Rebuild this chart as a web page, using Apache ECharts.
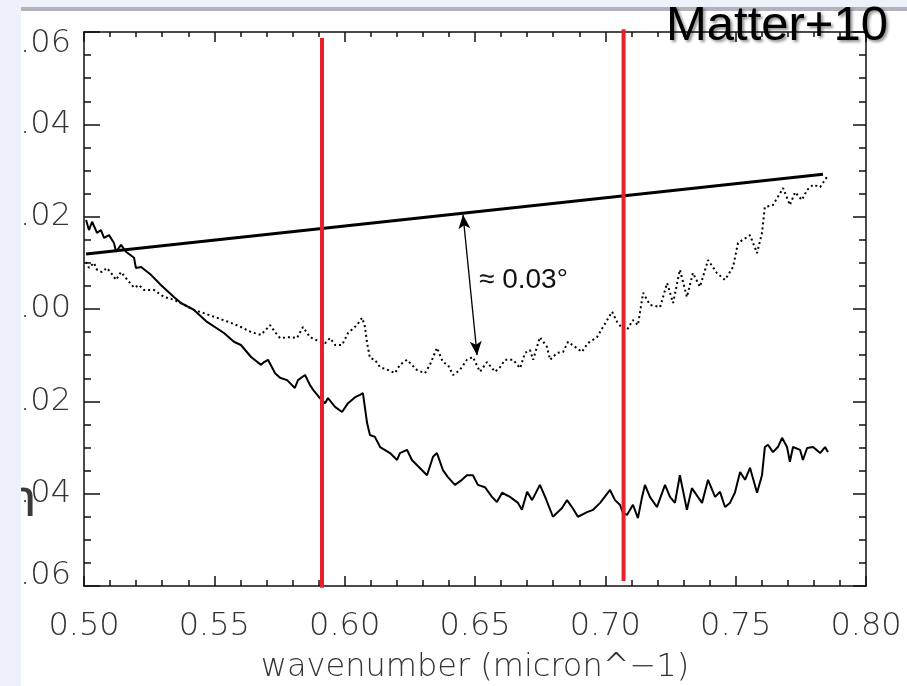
<!DOCTYPE html>
<html>
<head>
<meta charset="utf-8">
<script src="https://cdn.jsdelivr.net/npm/echarts@6/dist/echarts.min.js"></script>
<style>
html, body { margin: 0; padding: 0; background: #eef0fa; }
#main { width: 907px; height: 686px; }
</style>
</head>
<body>
<div id="main"></div>
<script>
// solid trace
var solidX = [0.5008,0.5019,0.5031,0.5050,0.5065,0.5077,0.5096,0.5115,0.5123,0.5142,
  0.5161,0.5192,0.5199,0.5219,0.5257,0.5295,0.5345,0.5372,0.5422,0.5472,
  0.5537,0.5575,0.5602,0.5641,0.5679,0.5691,0.5706,0.5733,0.5752,0.5779,
  0.5809,0.5821,0.5848,0.5867,0.5879,0.5905,0.5925,0.5936,0.5963,0.5990,
  0.6013,0.6040,0.6059,0.6070,0.6086,0.6097,0.6116,0.6136,0.6174,0.6201,
  0.6212,0.6239,0.6258,0.6277,0.6316,0.6339,0.6354,0.6377,0.6396,0.6423,
  0.6450,0.6469,0.6492,0.6511,0.6538,0.6565,0.6584,0.6604,0.6634,0.6665,
  0.6680,0.6700,0.6719,0.6749,0.6769,0.6799,0.6834,0.6853,0.6872,0.6895,
  0.6930,0.6953,0.6980,0.7018,0.7037,0.7056,0.7068,0.7083,0.7106,0.7125,
  0.7141,0.7152,0.7171,0.7198,0.7229,0.7248,0.7267,0.7286,0.7313,0.7332,
  0.7355,0.7371,0.7394,0.7421,0.7440,0.7459,0.7478,0.7497,0.7517,0.7536,
  0.7555,0.7566,0.7582,0.7601,0.7612,0.7624,0.7643,0.7662,0.7678,0.7697,
  0.7708,0.7720,0.7747,0.7758,0.7774,0.7797,0.7824,0.7843,0.7854];
var solidY = [0.0193,0.0171,0.0189,0.0165,0.0171,0.0154,0.0160,0.0143,0.0124,0.0139,
  0.0124,0.0111,0.0089,0.0091,0.0074,0.0052,0.0026,0.0013,-0.0002,-0.0028,
  -0.0052,-0.0071,-0.0078,-0.0104,-0.0121,-0.0115,-0.0110,-0.0139,-0.0149,-0.0154,
  -0.0171,-0.0154,-0.0143,-0.0165,-0.0175,-0.0193,-0.0204,-0.0193,-0.0212,-0.0223,
  -0.0204,-0.0191,-0.0186,-0.0182,-0.0247,-0.0273,-0.0277,-0.0299,-0.0312,-0.0327,
  -0.0312,-0.0305,-0.0327,-0.0338,-0.0360,-0.0320,-0.0312,-0.0349,-0.0364,-0.0381,
  -0.0370,-0.0360,-0.0360,-0.0381,-0.0386,-0.0407,-0.0418,-0.0398,-0.0407,-0.0420,
  -0.0435,-0.0396,-0.0414,-0.0381,-0.0407,-0.0450,-0.0431,-0.0414,-0.0429,-0.0450,
  -0.0440,-0.0435,-0.0420,-0.0392,-0.0414,-0.0424,-0.0442,-0.0446,-0.0424,-0.0453,
  -0.0407,-0.0381,-0.0407,-0.0429,-0.0381,-0.0407,-0.0420,-0.0360,-0.0435,-0.0388,
  -0.0407,-0.0420,-0.0370,-0.0407,-0.0396,-0.0429,-0.0420,-0.0398,-0.0353,-0.0370,
  -0.0344,-0.0366,-0.0398,-0.0360,-0.0299,-0.0294,-0.0310,-0.0299,-0.0279,-0.0299,
  -0.0331,-0.0299,-0.0305,-0.0327,-0.0301,-0.0299,-0.0312,-0.0299,-0.0310];

// dotted trace
var dottedX = [0.5008,0.5019,0.5038,0.5050,0.5069,0.5088,0.5104,0.5123,0.5142,0.5161,
  0.5192,0.5211,0.5230,0.5269,0.5307,0.5345,0.5384,0.5422,0.5460,0.5510,
  0.5564,0.5602,0.5641,0.5679,0.5714,0.5733,0.5752,0.5790,0.5817,0.5840,
  0.5867,0.5905,0.5925,0.5944,0.5963,0.5990,0.6013,0.6047,0.6067,0.6078,
  0.6086,0.6097,0.6116,0.6136,0.6166,0.6193,0.6212,0.6239,0.6258,0.6277,
  0.6308,0.6327,0.6354,0.6377,0.6396,0.6416,0.6442,0.6469,0.6492,0.6519,
  0.6546,0.6577,0.6596,0.6615,0.6646,0.6673,0.6692,0.6711,0.6723,0.6749,
  0.6776,0.6788,0.6815,0.6838,0.6857,0.6884,0.6910,0.6933,0.6968,0.6991,
  0.7026,0.7045,0.7064,0.7083,0.7106,0.7125,0.7145,0.7171,0.7210,0.7237,
  0.7260,0.7286,0.7313,0.7336,0.7363,0.7394,0.7428,0.7459,0.7490,0.7509,
  0.7528,0.7555,0.7582,0.7601,0.7612,0.7643,0.7682,0.7708,0.7728,0.7754,
  0.7774,0.7797,0.7824,0.7850];
var dottedY = [0.0102,0.0089,0.0100,0.0085,0.0080,0.0089,0.0078,0.0063,0.0080,0.0067,
  0.0046,0.0052,0.0041,0.0041,0.0026,0.0020,0.0009,-0.0002,-0.0009,-0.0019,
  -0.0030,-0.0039,-0.0050,-0.0056,-0.0035,-0.0050,-0.0063,-0.0061,-0.0063,-0.0039,
  -0.0061,-0.0071,-0.0074,-0.0063,-0.0078,-0.0078,-0.0052,-0.0035,-0.0019,-0.0039,
  -0.0074,-0.0106,-0.0110,-0.0126,-0.0132,-0.0139,-0.0121,-0.0110,-0.0121,-0.0132,
  -0.0139,-0.0121,-0.0084,-0.0115,-0.0121,-0.0143,-0.0132,-0.0110,-0.0104,-0.0136,
  -0.0115,-0.0136,-0.0126,-0.0110,-0.0110,-0.0128,-0.0095,-0.0089,-0.0110,-0.0061,
  -0.0082,-0.0110,-0.0095,-0.0093,-0.0071,-0.0082,-0.0093,-0.0074,-0.0061,-0.0039,
  -0.0006,-0.0028,-0.0041,-0.0045,-0.0024,-0.0035,0.0035,0.0009,0.0004,0.0056,
  0.0013,0.0085,0.0026,0.0078,0.0048,0.0106,0.0078,0.0063,0.0091,0.0143,
  0.0150,0.0160,0.0121,0.0165,0.0221,0.0225,0.0262,0.0225,0.0253,0.0236,
  0.0258,0.0269,0.0264,0.0286];

// straight reference line
var fitX = [0.5008, 0.7835];
var fitY = [0.0119, 0.0292];

// red markers
var cutX = [0.5913, 0.7070];
var cutTop = [0.0587, 0.0606];
var cutBottom = [-0.0604, -0.0589];

// double arrow
var arrowX = [0.6454, 0.6508];
var arrowY = [0.0204, -0.0100];

var xMin = 0.50, xMax = 0.80, xStep = 0.05;
var yMin = -0.06, yMax = 0.06, yStep = 0.02;

var thinFont = 'DejaVu Sans';
var ink = '#111';

function pairs(xs, ys) {
  return xs.map(function (x, i) { return [x, ys[i]]; });
}

function yLabel(v) {
  var s = Math.abs(v).toFixed(2).slice(1);
  if (v > yMax - 0.001) return '{t|' + s + '}';
  if (v < yMin + 0.001) return '{b|' + s + '}';
  return s;
}

var labelStyle = { fontSize: 32, fontFamily: thinFont, fontWeight: 200, color: '#333' };

var myChart = echarts.init(document.getElementById('main'));

var cutSeries = cutX.map(function (x, i) {
  return {
    type: 'line',
    data: [[x, cutTop[i]], [x, cutBottom[i]]],
    symbol: 'none',
    clip: false,
    z: 6,
    lineStyle: { color: '#e8202a', width: 4 }
  };
});

myChart.setOption({
  animation: false,
  backgroundColor: '#ffffff',
  grid: { left: 84, top: 32, width: 782, height: 554, containLabel: false, outerBoundsMode: 'none' },
  xAxis: [
    {
      type: 'value', min: xMin, max: xMax, interval: xStep, position: 'bottom',
      axisLine: { onZero: false, lineStyle: { color: ink, width: 1.5 } },
      axisTick: { inside: true, length: 10, lineStyle: { color: ink, width: 1.5 } },
      minorTick: { show: true, splitNumber: 5, length: 6, lineStyle: { color: ink, width: 1.5 } },
      splitLine: { show: false },
      axisLabel: Object.assign({ margin: 25, formatter: function (v) { return v.toFixed(2); } }, labelStyle),
      name: 'wavenumber (micron^\u22121)',
      nameLocation: 'middle',
      nameGap: 66,
      nameTextStyle: labelStyle
    },
    {
      type: 'value', min: xMin, max: xMax, interval: xStep, position: 'top',
      axisLine: { onZero: false, lineStyle: { color: ink, width: 1.5 } },
      axisTick: { inside: true, length: 10, lineStyle: { color: ink, width: 1.5 } },
      minorTick: { show: true, splitNumber: 5, length: 5, lineStyle: { color: ink, width: 1.5 } },
      splitLine: { show: false },
      axisLabel: { show: false }
    }
  ],
  yAxis: [
    {
      type: 'value', min: yMin, max: yMax, interval: yStep, position: 'left',
      axisLine: { onZero: false, lineStyle: { color: ink, width: 1.5 } },
      axisTick: { inside: true, length: 16, lineStyle: { color: ink, width: 1.5 } },
      minorTick: { show: true, splitNumber: 4, length: 7, lineStyle: { color: ink, width: 1.5 } },
      splitLine: { show: false },
      axisLabel: Object.assign({
        margin: 13,
        formatter: yLabel,
        rich: {
          t: Object.assign({ padding: [24, 0, 0, 0] }, labelStyle),
          b: Object.assign({ padding: [0, 0, 20, 0] }, labelStyle)
        }
      }, labelStyle)
    },
    {
      type: 'value', min: yMin, max: yMax, interval: yStep, position: 'right',
      axisLine: { onZero: false, lineStyle: { color: ink, width: 1.5 } },
      axisTick: { inside: true, length: 13, lineStyle: { color: ink, width: 1.5 } },
      minorTick: { show: true, splitNumber: 4, length: 7, lineStyle: { color: ink, width: 1.5 } },
      splitLine: { show: false },
      axisLabel: { show: false }
    }
  ],
  series: [
    {
      type: 'line',
      data: pairs(dottedX, dottedY),
      symbol: 'none',
      z: 3,
      lineStyle: { color: '#000', width: 2, type: [2, 3] }
    },
    {
      type: 'line',
      data: pairs(solidX, solidY),
      symbol: 'none',
      z: 4,
      lineStyle: { color: '#000', width: 2 }
    },
    {
      type: 'line',
      data: pairs(fitX, fitY),
      symbol: 'none',
      z: 5,
      lineStyle: { color: '#000', width: 3 },
      markLine: {
        silent: true,
        symbol: ['arrow', 'arrow'],
        symbolSize: [9, 14],
        label: { show: false },
        lineStyle: { color: '#000', width: 1.3, type: 'solid' },
        data: [[{ coord: [arrowX[0], arrowY[0]] }, { coord: [arrowX[1], arrowY[1]] }]]
      }
    }
  ].concat(cutSeries),
  graphic: [
    { type: 'text', left: 6, top: 474, z: 40,
      style: { text: 'n', fontSize: 54, fontFamily: 'Liberation Sans', fill: '#3a3a3a' } },
    { type: 'rect', left: 0, top: 0, z: 50, shape: { width: 21, height: 686 }, style: { fill: '#eef0fa' } },
    { type: 'rect', left: 0, top: 0, z: 50, shape: { width: 907, height: 7 }, style: { fill: '#eef0fa' } },
    { type: 'rect', left: 21, top: 7, z: 50, shape: { width: 886, height: 4 }, style: { fill: '#b3b3bb' } },
    { type: 'text', left: 666, top: 2, z: 60,
      style: {
        text: 'Matter+10', fontSize: 49, fontFamily: 'Liberation Sans', fill: '#000',
        textShadowColor: 'rgba(0,0,0,0.45)', textShadowBlur: 3, textShadowOffsetX: 2, textShadowOffsetY: 2,
        shadowColor: 'rgba(0,0,0,0.45)', shadowBlur: 3, shadowOffsetX: 2, shadowOffsetY: 2
      } },
    { type: 'text', left: 479, top: 266, z: 60,
      style: { text: '\u2248 0.03\u00b0', fontSize: 28, fontFamily: 'Liberation Sans', fill: '#111' } }
  ]
});
</script>
</body>
</html>
